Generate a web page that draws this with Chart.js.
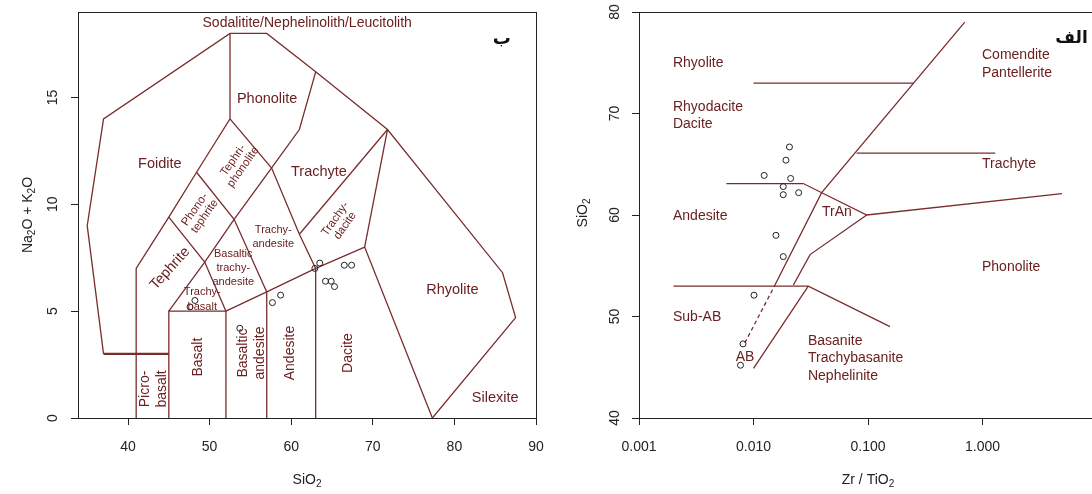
<!DOCTYPE html>
<html>
<head>
<meta charset="utf-8">
<script src="https://cdn.jsdelivr.net/npm/chart.js@4.4.0/dist/chart.umd.min.js"></script>
<style>
  html, body { margin: 0; padding: 0; background: #fff; overflow: hidden; width: 1092px; height: 494px; }
  #tas { position: absolute; left: 0; top: 0; }
  #wf { position: absolute; left: 556px; top: 0; }
</style>
</head>
<body>
<canvas id="tas" width="546" height="494"></canvas>
<canvas id="wf" width="560" height="494"></canvas>
<script>
// ---- TAS (left panel) ----
const tasXTicks = [40, 50, 60, 70, 80, 90];
const tasYTicks = [0, 5, 10, 15];
const tasSiO2 = [48.2, 47.6, 53.7, 57.7, 58.7, 62.9, 63.5, 64.2, 64.9, 65.3, 66.5, 67.4];
const tasAlk  = [5.5, 5.2, 4.2, 5.4, 5.75, 7.0, 7.25, 6.4, 6.4, 6.15, 7.15, 7.15];

// field boundaries, [SiO2, Na2O+K2O]
const tasOuter = [[37, 3], [35, 9], [37, 14], [52.5, 18], [57, 18], [63, 16.2], [71.8, 13.5], [85.9, 6.8], [87.5, 4.7], [77.3, 0]];
const tasBase3 = [[37, 3], [45, 3]];
const tasFoidite = [[41, 0], [41, 7], [45, 9.4], [48.4, 11.5], [52.5, 14], [52.5, 18]];
const tasBasalt = [[45, 0], [45, 5], [52, 5], [52, 0]];
const tasSubalk = [[52, 5], [57, 5.9], [63, 7], [69, 8], [77.3, 0]];
const tasAnd57 = [[57, 0], [57, 5.9]];
const tasDac63 = [[63, 0], [63, 7]];
const tasDiag1 = [[45, 5], [49.4, 7.3], [53, 9.3], [57.6, 11.7], [61, 13.5], [63, 16.2]];
const tasDiag2 = [[52, 5], [49.4, 7.3], [45, 9.4]];
const tasDiag3 = [[57, 5.9], [53, 9.3], [48.4, 11.5]];
const tasDiag4 = [[63, 7], [61, 8.6], [57.6, 11.7], [52.5, 14]];
const tasDiag5 = [[61, 8.6], [71.8, 13.5]];
const tasDiag6 = [[69, 8], [71.8, 13.5]];

// ---- Winchester & Floyd (right panel) ----
const wfXTicks = [0.001, 0.01, 0.1, 1];
const wfXTickLabels = ['0.001', '0.010', '0.100', '1.000'];
const wfYTicks = [40, 50, 60, 70, 80];
const wfZrTi = [0.0206, 0.0192, 0.0124, 0.0211, 0.0182, 0.0182, 0.0248, 0.0157, 0.0182, 0.0101, 0.0081, 0.0077];
const wfSiO2 = [66.7, 65.4, 63.9, 63.6, 62.8, 62.0, 62.2, 58.0, 55.9, 52.1, 47.3, 45.2];

const wfMain = [[0.0154, 53.1], [0.0394, 62.2], [0.70, 79]];
const wfDashed = [[0.0084, 47.4], [0.0154, 53.1]];
const wfRhyo = [[0.0100, 73], [0.25, 73]];
const wfTrachyte = [[0.0796, 66.1], [1.29, 66.1]];
const wfAndesite = [[0.0058, 63.1], [0.0272, 63.1], [0.0975, 60.0], [4.94, 62.1]];
const wfTrAnLow = [[0.0223, 53.1], [0.0312, 56.1], [0.0975, 60.0]];
const wfSubAB = [[0.0020, 53.0], [0.0301, 53.0], [0.1556, 49.0]];
const wfBasanite = [[0.0100, 44.9], [0.0301, 53.0]];

const lineColor = '#7a2c2c';
const textColor = '#6b2020';
const FONT = '"Liberation Sans", Arial, Helvetica, sans-serif';

const tasLabels = [
  { t: ['Sodalitite/Nephelinolith/Leucitolith'], x: 61.96, y: 18.5, s: 14 },
  { t: ['Phonolite'], x: 57.05, y: 14.95, s: 14.5 },
  { t: ['Foidite'], x: 43.9, y: 11.87, s: 14.5 },
  { t: ['Trachyte'], x: 63.4, y: 11.5, s: 14.5 },
  { t: ['Rhyolite'], x: 79.75, y: 5.98, s: 14.5 },
  { t: ['Silexite'], x: 85.0, y: 0.93, s: 14.5 },
  { t: ['Tephri-', 'phonolite'], x: 53.5, y: 11.9, s: 11.5, r: -55, lh: 12 },
  { t: ['Phono-', 'tephrite'], x: 48.8, y: 9.6, s: 11.5, r: -55, lh: 12 },
  { t: ['Tephrite'], x: 45.15, y: 7.0, s: 14.5, r: -48 },
  { t: ['Trachy-', 'andesite'], x: 57.8, y: 8.45, s: 11, lh: 14 },
  { t: ['Basaltic', 'trachy-', 'andesite'], x: 52.9, y: 7.0, s: 11, lh: 14 },
  { t: ['Trachy-', 'basalt'], x: 49.1, y: 5.56, s: 11, lh: 15 },
  { t: ['Trachy-', 'dacite'], x: 66.0, y: 9.16, s: 11.5, r: -55, lh: 12 },
  { t: ['Picro-', 'basalt'], x: 43.2, y: 1.36, s: 14, r: -90, lh: 17 },
  { t: ['Basalt'], x: 48.6, y: 2.85, s: 14, r: -90 },
  { t: ['Basaltic', 'andesite'], x: 55.1, y: 3.04, s: 14, r: -90, lh: 17 },
  { t: ['Andesite'], x: 59.9, y: 3.04, s: 14, r: -90 },
  { t: ['Dacite'], x: 67.0, y: 3.04, s: 14, r: -90 },
  { t: ['ب'], x: 85.8, y: 17.7, s: 18, c: '#111', f: '"DejaVu Sans", sans-serif', b: true }
];

const wfLabels = [
  { t: ['Rhyolite'], x: 0.00198, y: 74.98, s: 14, a: 'left' },
  { t: ['Rhyodacite', 'Dacite'], x: 0.00198, y: 69.8, s: 14, a: 'left', lh: 17 },
  { t: ['Andesite'], x: 0.00198, y: 59.9, s: 14, a: 'left' },
  { t: ['Sub-AB'], x: 0.00198, y: 49.95, s: 14, a: 'left' },
  { t: ['AB'], x: 0.00844, y: 46.0, s: 14 },
  { t: ['TrAn'], x: 0.0536, y: 60.3, s: 14 },
  { t: ['Basanite', 'Trachybasanite', 'Nephelinite'], x: 0.0299, y: 45.85, s: 14, a: 'left', lh: 17.5 },
  { t: ['Comendite', 'Pantellerite'], x: 0.99, y: 74.87, s: 14, a: 'left', lh: 18 },
  { t: ['Trachyte'], x: 0.99, y: 65.0, s: 14, a: 'left' },
  { t: ['Phonolite'], x: 0.99, y: 54.9, s: 14, a: 'left' },
  { t: ['الف'], x: 6.0, y: 77.4, s: 17, c: '#111', f: '"DejaVu Sans", sans-serif', b: true }
];

function lineSet(pts, opts) {
  return Object.assign({
    data: pts.map(p => ({ x: p[0], y: p[1] })),
    showLine: true,
    borderColor: lineColor,
    borderWidth: 1.3,
    pointRadius: 0,
    pointHoverRadius: 0,
    fill: false,
    tension: 0
  }, opts || {});
}

function pointSet(xs, ys) {
  return {
    data: xs.map((v, i) => ({ x: v, y: ys[i] })),
    showLine: false,
    pointRadius: 3,
    pointBorderColor: '#222',
    pointBackgroundColor: 'rgba(0,0,0,0)',
    pointBorderWidth: 1
  };
}

// draws text with subscript pieces: parts = [[text, isSub], ...]
function drawRich(ctx, parts, size) {
  const sub = Math.round(size * 0.72);
  let w = 0;
  parts.forEach(p => {
    ctx.font = (p[1] ? sub : size) + 'px ' + FONT;
    w += ctx.measureText(p[0]).width;
  });
  let cx = -w / 2;
  parts.forEach(p => {
    ctx.font = (p[1] ? sub : size) + 'px ' + FONT;
    ctx.fillText(p[0], cx, p[1] ? size * 0.3 : 0);
    cx += ctx.measureText(p[0]).width;
  });
}

function makeDecor(cfg) {
  return {
    id: 'decor',
    afterDraw(chart) {
      const { ctx, chartArea: a } = chart;
      const x = chart.scales.x, y = chart.scales.y;
      ctx.save();
      ctx.strokeStyle = '#222';
      ctx.lineWidth = 1;
      ctx.strokeRect(a.left + 0.5, a.top + 0.5, a.right - a.left, a.bottom - a.top);

      // field names
      ctx.textBaseline = 'middle';
      cfg.labels.forEach(l => {
        const px = x.getPixelForValue(l.x), py = y.getPixelForValue(l.y);
        const lh = l.lh || l.s * 1.2;
        ctx.save();
        ctx.translate(px, py);
        if (l.r) ctx.rotate(l.r * Math.PI / 180);
        ctx.fillStyle = l.c || textColor;
        ctx.font = (l.b ? 'bold ' : '') + l.s + 'px ' + (l.f || FONT);
        ctx.textAlign = l.a || 'center';
        l.t.forEach((line, i) => {
          ctx.fillText(line, 0, (i - (l.t.length - 1) / 2) * lh);
        });
        ctx.restore();
      });

      // rotated y tick labels (R style)
      ctx.fillStyle = '#222';
      ctx.font = '14px ' + FONT;
      ctx.textAlign = 'center';
      cfg.yTicks.forEach(v => {
        ctx.save();
        ctx.translate(cfg.yLabelX, y.getPixelForValue(v));
        ctx.rotate(-Math.PI / 2);
        ctx.fillText(String(v), 0, 0);
        ctx.restore();
      });

      // axis titles
      ctx.fillStyle = '#222';
      ctx.textAlign = 'left';
      ctx.save();
      ctx.translate((a.left + a.right) / 2, cfg.xTitleY);
      drawRich(ctx, cfg.xTitle, 14);
      ctx.restore();
      ctx.save();
      ctx.translate(cfg.yTitleX, cfg.yTitleY);
      ctx.rotate(-Math.PI / 2);
      drawRich(ctx, cfg.yTitle, 14);
      ctx.restore();
      ctx.restore();
    }
  };
}

function axisBase(ticksArr, fitKey, fitVal) {
  return {
    afterBuildTicks: s => { s.ticks = ticksArr.map(v => ({ value: v })); },
    afterFit: s => {
      s[fitKey] = fitVal;
      s.paddingLeft = 0; s.paddingRight = 0; s.paddingTop = 0; s.paddingBottom = 0;
    },
    grid: { display: true, drawOnChartArea: false, drawTicks: true, tickLength: 7, color: '#222', lineWidth: 1 },
    border: { display: true, color: '#222', width: 1 }
  };
}

// left: TAS
new Chart(document.getElementById('tas'), {
  type: 'scatter',
  data: {
    datasets: [
      pointSet(tasSiO2, tasAlk),
      lineSet(tasOuter), lineSet(tasBase3, { borderWidth: 2.2 }), lineSet(tasFoidite),
      lineSet(tasBasalt), lineSet(tasSubalk), lineSet(tasAnd57), lineSet(tasDac63),
      lineSet(tasDiag1), lineSet(tasDiag2), lineSet(tasDiag3), lineSet(tasDiag4),
      lineSet(tasDiag5), lineSet(tasDiag6)
    ]
  },
  options: {
    responsive: false,
    animation: false,
    layout: { padding: { top: 12, right: 10, left: 0, bottom: 0 } },
    plugins: { legend: { display: false }, tooltip: { enabled: false } },
    scales: {
      x: Object.assign(axisBase(tasXTicks, 'height', 76), {
        type: 'linear', min: 33.87, max: 90,
        ticks: { color: '#222', font: { family: FONT, size: 14 }, padding: 14, maxRotation: 0, autoSkip: false }
      }),
      y: Object.assign(axisBase(tasYTicks, 'width', 78), {
        type: 'linear', min: 0, max: 19,
        ticks: { display: false }
      })
    }
  },
  plugins: [makeDecor({
    labels: tasLabels, yTicks: tasYTicks, yLabelX: 53,
    xTitle: [['SiO', 0], ['2', 1]], xTitleY: 480,
    yTitle: [['Na', 0], ['2', 1], ['O + K', 0], ['2', 1], ['O', 0]], yTitleX: 28, yTitleY: 215
  })]
});

// right: Zr/TiO2 vs SiO2
new Chart(document.getElementById('wf'), {
  type: 'scatter',
  data: {
    datasets: [
      pointSet(wfZrTi, wfSiO2),
      lineSet(wfMain), lineSet(wfDashed, { borderDash: [4, 3] }), lineSet(wfRhyo),
      lineSet(wfTrachyte), lineSet(wfAndesite), lineSet(wfTrAnLow), lineSet(wfSubAB),
      lineSet(wfBasanite)
    ]
  },
  options: {
    responsive: false,
    animation: false,
    layout: { padding: { top: 12, right: 19, left: 0, bottom: 0 } },
    plugins: { legend: { display: false }, tooltip: { enabled: false } },
    scales: {
      x: Object.assign(axisBase(wfXTicks, 'height', 76), {
        type: 'logarithmic', min: 0.001, max: 10,
        ticks: {
          color: '#222', font: { family: FONT, size: 14 }, padding: 14, maxRotation: 0, autoSkip: false,
          callback: (v, i) => wfXTickLabels[i]
        }
      }),
      y: Object.assign(axisBase(wfYTicks, 'width', 83), {
        type: 'linear', min: 40, max: 80,
        ticks: { display: false }
      })
    }
  },
  plugins: [makeDecor({
    labels: wfLabels, yTicks: wfYTicks, yLabelX: 59,
    xTitle: [['Zr / TiO', 0], ['2', 1]], xTitleY: 480,
    yTitle: [['SiO', 0], ['2', 1]], yTitleX: 27, yTitleY: 213
  })]
});
</script>
</body>
</html>
